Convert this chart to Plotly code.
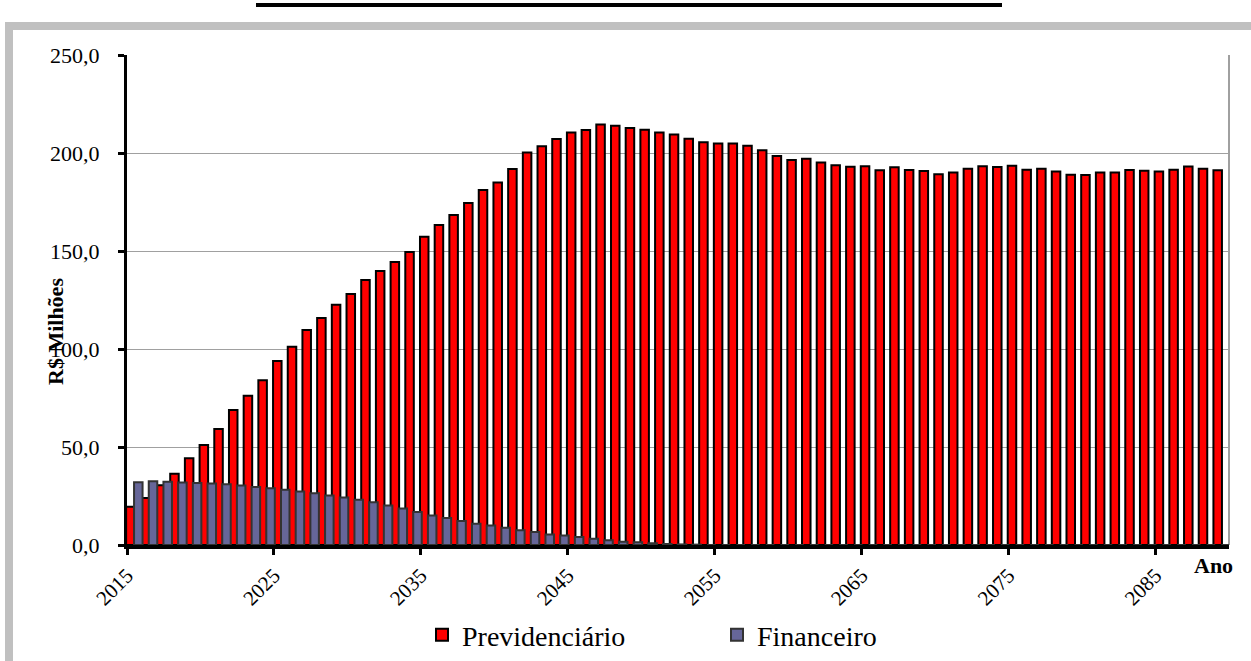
import plotly.graph_objects as go

years = list(range(2015, 2090))

previdenciario = [
    19.5, 24.0, 30.5, 36.3, 44.2, 51.0, 59.2, 68.9, 76.2, 84.0,
    93.9, 101.2, 109.7, 115.8, 122.6, 128.0, 135.2, 139.8, 144.4, 149.5,
    157.3, 163.3, 168.4, 174.5, 181.1, 184.9, 191.8, 200.2, 203.4, 207.1,
    210.5, 211.7, 214.5, 213.9, 212.8, 211.9, 210.4, 209.5, 207.3, 205.5,
    204.8, 204.8, 203.7, 201.4, 198.5, 196.4, 197.1, 195.2, 193.7, 193.0,
    193.2, 191.2, 192.7, 191.3, 190.8, 189.1, 190.0, 192.0, 193.2, 192.9,
    193.5, 191.5, 192.0, 190.6, 188.9, 188.8, 190.1, 190.0, 191.3, 191.0,
    190.6, 191.5, 193.1, 192.0, 191.2,
]

financeiro = [
    32.0, 32.5, 32.3, 31.9, 31.6, 31.4, 31.0, 30.4, 29.6, 29.0,
    28.2, 27.3, 26.4, 25.2, 24.2, 23.1, 21.8, 20.2, 18.6, 16.8,
    15.0, 13.8, 12.2, 10.9, 9.9, 8.8, 7.5, 6.6, 5.4, 4.8,
    4.1, 3.2, 2.4, 1.7, 1.4, 0.9, 0.5, 0.3, 0.2, 0.0,
    0.0, 0.0, 0.0, 0.0, 0.0, 0.0, 0.0, 0.0, 0.0, 0.0,
    0.0, 0.0, 0.0, 0.0, 0.0, 0.0, 0.0, 0.0, 0.0, 0.0,
    0.0, 0.0, 0.0, 0.0, 0.0, 0.0, 0.0, 0.0, 0.0, 0.0,
    0.0, 0.0, 0.0, 0.0, 0.0,
]

tick_labels = ["2015", "2025", "2035", "2045", "2055", "2065", "2075", "2085"]
tick_years = [2015, 2025, 2035, 2045, 2055, 2065, 2075, 2085]

FONT = "Liberation Serif, Times New Roman, serif"
W, H = 1251, 661
L, R, T, B = 127, 22, 55, 116
PW, PH = W - L - R, H - T - B


def px_x(p):
    return (p - L) / PW


def px_y(p):
    return (H - B - p) / PH


fig = go.Figure()
fig.add_trace(go.Bar(
    x=years, y=previdenciario, name="Previdenciário",
    offset=-0.56, width=0.58,
    marker=dict(color="#FF0000", line=dict(color="#000000", width=2)),
))
fig.add_trace(go.Bar(
    x=years, y=financeiro, name="Financeiro",
    offset=-0.02, width=0.58,
    marker=dict(color="#666699", line=dict(color="#333333", width=2)),
))

fig.update_layout(
    width=W, height=H,
    margin=dict(l=L, r=R, t=T, b=B, pad=0, autoexpand=False),
    barmode="overlay",
    separators=",.",
    paper_bgcolor="white", plot_bgcolor="white",
    font=dict(family=FONT, size=20, color="black"),
    showlegend=True,
    legend=dict(
        orientation="h", x=px_x(717), xanchor="center", y=px_y(635), yanchor="middle",
        font=dict(family=FONT, size=28, color="black"),
        itemwidth=30, entrywidth=250, bgcolor="rgba(0,0,0,0)",
    ),
    xaxis=dict(
        range=[2014.5, 2089.5],
        tickmode="array",
        tickvals=[y - 0.5 for y in tick_years],
        ticktext=tick_labels,
        tickangle=-45,
        ticks="outside", ticklen=6, tickwidth=3, tickcolor="black",
        showline=True, linecolor="black", linewidth=4,
        showgrid=False, zeroline=False, automargin=False,
        tickfont=dict(family=FONT, size=21, color="black"),
    ),
    yaxis=dict(
        range=[0, 250],
        tickvals=[0, 50, 100, 150, 200, 250],
        tickformat=".1f",
        ticks="outside", ticklen=6, tickwidth=3, tickcolor="black",
        ticklabelstandoff=14,
        showline=True, linecolor="black", linewidth=3,
        showgrid=True, gridcolor="#A0A0A0", gridwidth=1,
        zeroline=False, automargin=False,
        tickfont=dict(family=FONT, size=22, color="black"),
    ),
)

# right border of the plot area
fig.add_shape(type="line", xref="paper", yref="paper", x0=1, x1=1, y0=0, y1=1,
              line=dict(color="#A0A0A0", width=2), layer="below")

# outer chart frame
fig.add_shape(type="rect", xref="paper", yref="paper",
              x0=px_x(9), x1=px_x(1275), y0=px_y(26), y1=px_y(700),
              line=dict(color="#C0C0C0", width=8), layer="below")

# underline of the cropped title above the chart
fig.add_shape(type="line", xref="paper", yref="paper",
              x0=px_x(256), x1=px_x(1002), y0=px_y(5), y1=px_y(5),
              line=dict(color="black", width=4))

fig.add_annotation(text="<b>R$ Milhões</b>", xref="paper", yref="paper",
                   x=px_x(55), y=px_y(332), textangle=-90, showarrow=False,
                   font=dict(family=FONT, size=22, color="black"),
                   xanchor="center", yanchor="middle")

fig.add_annotation(text="<b>Ano</b>", xref="paper", yref="paper",
                   x=px_x(1213), y=px_y(565), showarrow=False,
                   font=dict(family=FONT, size=22, color="black"),
                   xanchor="center", yanchor="middle")

fig.write_html("out.html", config={"displayModeBar": False},
               post_script="document.body.style.margin='0px';")
